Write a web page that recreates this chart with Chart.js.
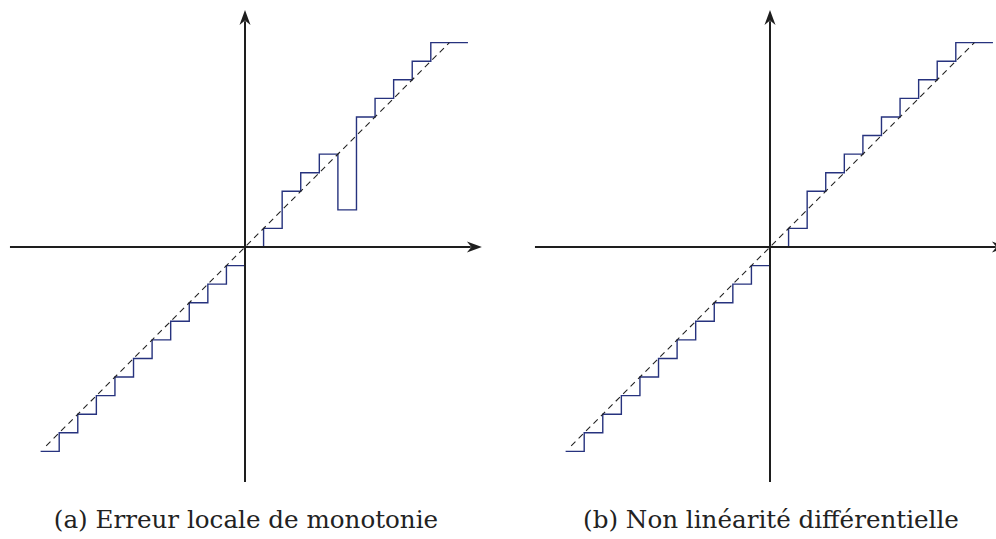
<!DOCTYPE html>
<html lang="fr">
<head>
<meta charset="utf-8">
<title>Caractéristique de transfert</title>
<script src="https://cdn.jsdelivr.net/npm/chart.js@4/dist/chart.umd.min.js"></script>
<style>
  html, body { margin: 0; padding: 0; background: #fff; }
  body { width: 996px; height: 539px; position: relative; overflow: hidden; }
  canvas { position: absolute; top: 0; }
  #chart-a { left: 0; }
  #chart-b { left: 498px; }
  .caption {
    position: absolute;
    top: 505px;
    width: 498px;
    text-align: center;
    font-family: "DejaVu Serif", serif;
    font-size: 24.6px;
    line-height: 30px;
    color: #222;
    white-space: nowrap;
  }
  #caption-a { left: -3px; }
  #caption-b { left: 522px; }
</style>
</head>
<body>
<canvas id="chart-a" width="498" height="490"></canvas>
<canvas id="chart-b" width="498" height="490"></canvas>
<div class="caption" id="caption-a"></div>
<div class="caption" id="caption-b"></div>
<script>
  // codes d'entrée (début de chaque palier) et sorties correspondantes
  const stepX = [-11, -10, -9, -8, -7, -6, -5, -4, -3, -2, -1, 0, 1, 2, 3, 4, 5, 6, 7, 8, 9, 10, 12];
  const monotonyY = [-11, -10, -9, -8, -7, -6, -5, -4, -3, -2, -1, 0, 1, 3, 4, 5, 2, 7, 8, 9, 10, 11, 11];
  const dnlY = [-11, -10, -9, -8, -7, -6, -5, -4, -3, -2, -1, 0, 1, 3, 4, 5, 6, 7, 8, 9, 10, 11, 11];
  // droite idéale y = x
  const idealRange = [-10.7, 11];
  // étendue des axes (la flèche est au bout positif)
  const axisRange = [-12.65, 12.75];
  const captions = ["(a) Erreur locale de monotonie", "(b) Non linéarité différentielle"];

  const UNIT = 18.58; // pixels par code
  const STEP_COLOR = "#26327e";
  const AXIS_COLOR = "#1e1e1e";

  // pointes de flèche type "stealth" au bout des deux axes
  const arrowPlugin = {
    id: "axisArrows",
    afterDatasetsDraw(chart) {
      const { ctx, scales } = chart;
      const x0 = scales.x.getPixelForValue(0);
      const y0 = scales.y.getPixelForValue(0);
      const xt = scales.x.getPixelForValue(axisRange[1]);
      const yt = scales.y.getPixelForValue(axisRange[1]);
      ctx.save();
      ctx.fillStyle = AXIS_COLOR;
      drawArrow(ctx, xt, y0, 0);
      drawArrow(ctx, x0, yt, -Math.PI / 2);
      ctx.restore();
    },
  };

  function drawArrow(ctx, x, y, angle) {
    ctx.save();
    ctx.translate(x, y);
    ctx.rotate(angle);
    ctx.beginPath();
    ctx.moveTo(0, 0);
    ctx.lineTo(-15, -5.5);
    ctx.lineTo(-10.5, 0);
    ctx.lineTo(-15, 5.5);
    ctx.closePath();
    ctx.fill();
    ctx.restore();
  }

  function xy(xs, ys) {
    return xs.map((x, i) => ({ x, y: ys[i] }));
  }

  function buildChart(canvasId, originX, originY, stepsY) {
    const canvas = document.getElementById(canvasId);
    const w = canvas.width;
    const h = canvas.height;
    const axisEnd = axisRange[1] - 0.6; // le trait s'arrête sous la pointe
    return new Chart(canvas.getContext("2d"), {
      type: "line",
      data: {
        datasets: [
          {
            label: "axe x",
            data: [{ x: axisRange[0], y: 0 }, { x: axisEnd, y: 0 }],
            borderColor: AXIS_COLOR,
            borderWidth: 2,
          },
          {
            label: "axe y",
            data: [{ x: 0, y: axisRange[0] }, { x: 0, y: axisEnd }],
            borderColor: AXIS_COLOR,
            borderWidth: 2,
          },
          {
            label: "idéal",
            data: idealRange.map((v) => ({ x: v, y: v })),
            borderColor: "#222",
            borderWidth: 1.1,
            borderDash: [6, 4.5],
          },
          {
            label: "caractéristique",
            data: xy(stepX, stepsY),
            borderColor: STEP_COLOR,
            borderWidth: 1.4,
            stepped: "before",
          },
        ],
      },
      options: {
        responsive: false,
        animation: false,
        devicePixelRatio: 1,
        layout: { padding: 0 },
        elements: { point: { radius: 0 }, line: { tension: 0, borderCapStyle: "butt" } },
        plugins: { legend: { display: false }, tooltip: { enabled: false } },
        scales: {
          x: {
            type: "linear",
            display: false,
            min: -originX / UNIT,
            max: (w - originX) / UNIT,
          },
          y: {
            type: "linear",
            display: false,
            min: -(h - originY) / UNIT,
            max: originY / UNIT,
          },
        },
      },
      plugins: [arrowPlugin],
    });
  }

  buildChart("chart-a", 245, 247, monotonyY);
  buildChart("chart-b", 272, 247, dnlY);
  document.getElementById("caption-a").textContent = captions[0];
  document.getElementById("caption-b").textContent = captions[1];
</script>
</body>
</html>
